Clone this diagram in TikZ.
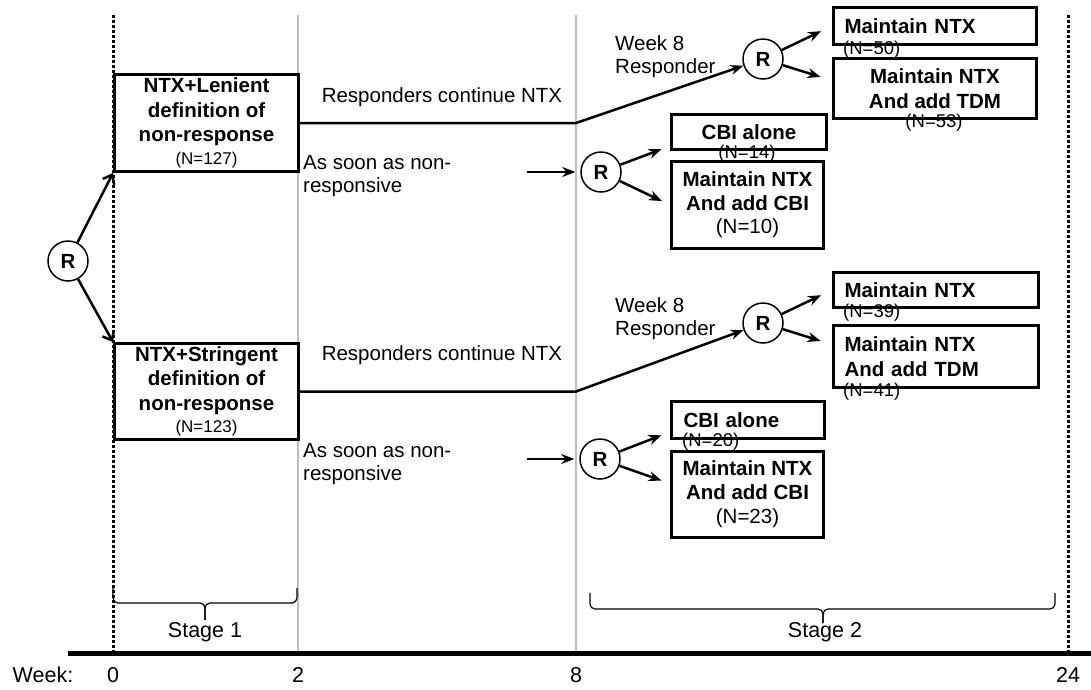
\documentclass[tikz,border=0pt]{standalone}
\usepackage{fontspec}
\setmainfont{Liberation Sans}
\usetikzlibrary{arrows.meta}

\begin{document}
\begin{tikzpicture}[x=1pt, y=-1pt, >={Stealth[length=13pt,width=10pt]},
    box/.style = {draw, line width=3pt, anchor=north west, inner sep=0pt, align=center,
                  font=\fontsize{20.5}{24.5}\selectfont\bfseries},
    lbox/.style = {box, align=left, inner xsep=11pt},
    rnd/.style = {draw, circle, line width=1.5pt, minimum size=40pt, inner sep=0pt,
                  font=\fontsize{20.5}{24}\selectfont\bfseries},
    txt/.style = {align=left, inner sep=0pt, font=\fontsize{20.5}{23}\selectfont},
    nlab/.style = {inner sep=0pt, font=\fontsize{18.5}{20}\selectfont},
    axlab/.style = {inner sep=0pt, font=\fontsize{21.5}{24}\selectfont},
    arr/.style = {->, line width=2.5pt},
    weekline/.style = {black!25, line width=1.5pt},
    dotline/.style = {line width=3pt, dash pattern=on 3pt off 2pt},
    stagebrace/.style = {line width=1.2pt, rounded corners=5pt}]
    \useasboundingbox (0,0) rectangle (1091,689);

    % time axis
    \coordinate (w0) at (113,15);
    \coordinate (w2) at (298,15);
    \coordinate (w8) at (576,15);
    \coordinate (w24) at (1068,15);
    \coordinate (ax) at (68,653);
    \coordinate (axe) at (1091,653);

    \draw[weekline] (w2) -- (w2 |- ax);
    \draw[weekline] (w8) -- (w8 |- ax);
    \draw[dotline] (w0) -- (w0 |- ax);
    \draw[dotline] (w24) -- (w24 |- ax);
    \draw[line width=5pt] (ax) -- (axe);

    \node[axlab] (wk) at (43,675) {Week:};
    \node[axlab] (l0) at (w0 |- wk) {0};
    \node[axlab] (l2) at (w2 |- wk) {2};
    \node[axlab] (l8) at (w8 |- wk) {8};
    \node[axlab] (l24) at (w24 |- wk) {24};

    \draw[stagebrace] (113,588) |- (205,603) -- (205,620);
    \draw[stagebrace] (297,588) |- (205,603) -- (205,620);
    \draw[stagebrace] (590,593) |- (823,609) -- (823,623);
    \draw[stagebrace] (1055,593) |- (823,609) -- (823,623);
    \node[axlab] (s1) at (205,632) {Stage 1};
    \node[axlab] (s2) at (825,632) {Stage 2};

    % stage 1
    \node[rnd] (r0) at (68,261) {R};
    \node[box, minimum width=184pt, minimum height=97pt] (b1) at (113,73)
        {NTX+Lenient\\definition of\\non-response\\[-2pt]{\fontsize{17}{19}\selectfont\mdseries (N=127)}};
    \node[box, minimum width=184pt, minimum height=96pt] (b2) at (113,342)
        {NTX+Stringent\\definition of\\non-response\\[-2pt]{\fontsize{17}{19}\selectfont\mdseries (N=123)}};

    \draw[->, line width=2.5pt, >={Straight Barb[length=8pt,width=13pt]}] (r0) -- (b1.south west);
    \draw[->, line width=2.5pt, >={Straight Barb[length=8pt,width=13pt]}] (r0) -- (b2.north west);

    % stage 2, lenient arm
    \node[txt] (rc1) at (442,97) {Responders continue NTX};
    \node[txt, anchor=west] (as1) at (303,176.5) {As soon as non-\\responsive};
    \node[txt, anchor=west] (wr1) at (615,57) {Week 8\\Responder};
    \node[rnd] (rt1) at (763,59) {R};
    \node[rnd] (rn1) at (601,172) {R};
    \coordinate (in1) at (527,172);

    \node[nlab, anchor=west] (n50) at (843,50) {(N=50)};
    \node[nlab] (n53) at (934,123) {(N=53)};
    \node[nlab] (n14) at (747,154) {(N=14)};
    \node[lbox, text width=181pt, minimum height=37pt] (m1) at (832,6) {Maintain NTX};
    \node[box, minimum width=203pt, minimum height=60pt] (t1) at (832,57) {Maintain NTX\\And add TDM};
    \node[box, minimum width=155pt, minimum height=35pt] (c1) at (670,113) {CBI alone};
    \node[box, minimum width=152pt, minimum height=87pt, font=\fontsize{20.5}{23.5}\selectfont\bfseries] (mc1) at (670,160)
        {Maintain NTX\\And add CBI\\{\mdseries (N=10)}};

    \draw[arr] (b1.east) -- (b1.east -| w8) -- (rt1);
    \draw[arr, shorten >=5pt] (in1) -- (rn1);
    \draw[arr, shorten >=12pt] (rt1) -- (m1.west);
    \draw[arr, shorten >=12pt] (rt1) -- ([yshift=8pt]t1.west);
    \draw[arr, shorten >=9pt] (rn1) -- ([yshift=-14pt]c1.west);
    \draw[arr, shorten >=9pt] (rn1) -- (mc1.west);

    % stage 2, stringent arm
    \node[txt] (rc2) at (442,355) {Responders continue NTX};
    \node[txt, anchor=west] (as2) at (303,464) {As soon as non-\\responsive};
    \node[txt, anchor=west] (wr2) at (615,319) {Week 8\\Responder};
    \node[rnd] (rt2) at (763,323) {R};
    \node[rnd] (rn2) at (600,459) {R};
    \coordinate (in2) at (527,459);

    \node[nlab, anchor=west] (n39) at (843,313) {(N=39)};
    \node[nlab, anchor=west] (n41) at (843,392) {(N=41)};
    \node[nlab, anchor=west] (n20) at (682,442) {(N=20)};
    \node[lbox, text width=183pt, minimum height=35pt] (m2) at (832,271) {Maintain NTX};
    \node[lbox, text width=183pt, minimum height=62pt] (t2) at (832,324) {Maintain NTX\\And add TDM};
    \node[lbox, text width=129pt, minimum height=37pt, inner xsep=12pt] (c2) at (670,400) {CBI alone};
    \node[box, minimum width=152pt, minimum height=86pt, font=\fontsize{20.5}{24}\selectfont\bfseries] (mc2) at (670,450)
        {Maintain NTX\\And add CBI\\{\mdseries (N=23)}};

    \draw[arr] (b2.east) -- (b2.east -| w8) -- (rt2);
    \draw[arr, shorten >=5pt] (in2) -- (rn2);
    \draw[arr, shorten >=12pt] (rt2) -- (m2.west);
    \draw[arr, shorten >=12pt] (rt2) -- ([yshift=12pt]t2.west);
    \draw[arr, shorten >=9pt] (rn2) -- ([yshift=-12pt]c2.west);
    \draw[arr, shorten >=9pt] (rn2) -- ([yshift=11pt]mc2.west);

\end{tikzpicture}
\end{document}
